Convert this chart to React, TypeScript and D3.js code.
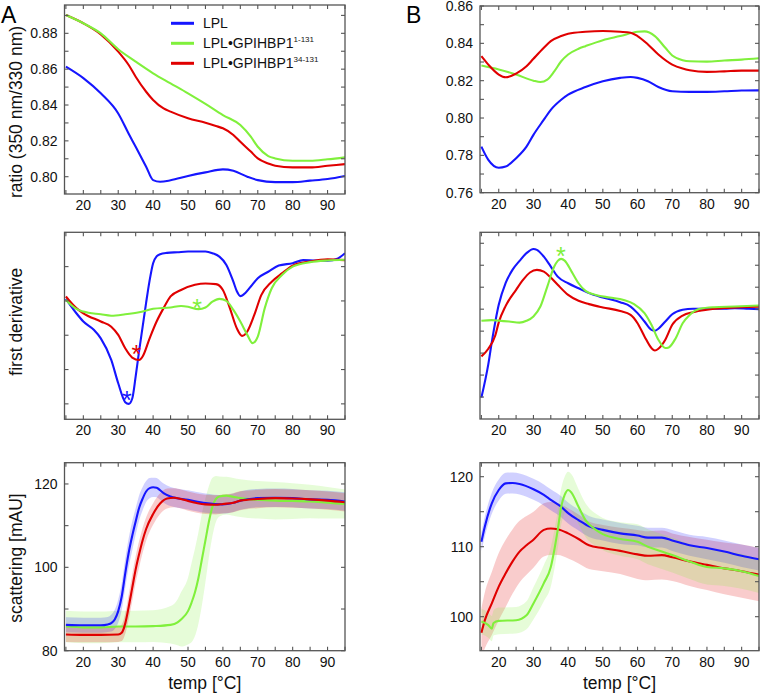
import React from 'react';
import * as d3 from 'd3';

const BLUE = '#1616ff';
const GREEN = '#80f03c';
const RED = '#e00000';
const FONT = '"Liberation Sans", Arial, Helvetica, sans-serif';

// ---------- shared axis ----------
const xDomain = [14.6, 95];
const xTicks = d3.range(15, 96, 5);
const xTickLabels = [20, 30, 40, 50, 60, 70, 80, 90];

// ---------- Panel A, ratio ----------
const aRatioLplT = [15, 20, 25, 30, 33, 35, 38, 40, 42, 45, 50, 55, 60, 63, 67, 70, 75, 80, 85, 90, 95];
const aRatioLplV = [0.8614, 0.855, 0.8465, 0.8353, 0.824, 0.8167, 0.8056, 0.7981, 0.7972, 0.798, 0.8004, 0.8024, 0.8041, 0.8033, 0.80, 0.7981, 0.797, 0.797, 0.7978, 0.7987, 0.8004];
const aRatioG1T = [15, 20, 25, 30, 35, 40, 45, 50, 55, 60, 65, 68, 70, 73, 75, 80, 85, 90, 95];
const aRatioG1V = [0.8902, 0.8856, 0.88, 0.8711, 0.8642, 0.8577, 0.8521, 0.8465, 0.8406, 0.8344, 0.8288, 0.8223, 0.8167, 0.8115, 0.8102, 0.8089, 0.8089, 0.8097, 0.8108];
const aRatioG34T = [15, 20, 25, 30, 33, 35, 38, 40, 43, 45, 50, 55, 58, 60, 63, 65, 68, 70, 73, 75, 80, 85, 90, 95];
const aRatioG34V = [0.8902, 0.8856, 0.8794, 0.8698, 0.8623, 0.8558, 0.8474, 0.8428, 0.8381, 0.8363, 0.8326, 0.8301, 0.8283, 0.827, 0.8233, 0.8195, 0.814, 0.8102, 0.8074, 0.8061, 0.8052, 0.8052, 0.8061, 0.807];
const aRatioTicks = [0.80, 0.81, 0.82, 0.83, 0.84, 0.85, 0.86, 0.87, 0.88, 0.89];
const aRatioLabels = [0.80, 0.82, 0.84, 0.86, 0.88];

// ---------- Panel B, ratio ----------
const bRatioLplT = [15, 17, 20, 22, 25, 28, 30, 33, 35, 38, 40, 45, 50, 55, 58, 60, 63, 66, 70, 75, 80, 85, 90, 95];
const bRatioLplV = [0.7847, 0.7776, 0.7734, 0.774, 0.7785, 0.7847, 0.791, 0.7991, 0.8044, 0.8098, 0.8125, 0.8166, 0.8197, 0.8215, 0.822, 0.8215, 0.8197, 0.8166, 0.8143, 0.814, 0.814, 0.8143, 0.8147, 0.8148];
const bRatioG1T = [15, 20, 25, 30, 32, 34, 36, 38, 40, 43, 45, 50, 55, 60, 62, 65, 68, 70, 73, 75, 80, 85, 90, 95];
const bRatioG1V = [0.8281, 0.826, 0.8233, 0.82, 0.8193, 0.8206, 0.825, 0.8304, 0.834, 0.8371, 0.8385, 0.8417, 0.8439, 0.8462, 0.8464, 0.8439, 0.8376, 0.8335, 0.831, 0.8304, 0.8302, 0.8308, 0.8313, 0.832];
const bRatioG34T = [15, 17, 20, 22, 25, 28, 30, 33, 35, 38, 40, 45, 50, 55, 58, 60, 63, 66, 70, 73, 75, 80, 85, 90, 95];
const bRatioG34V = [0.8331, 0.8286, 0.8233, 0.8218, 0.8238, 0.8277, 0.8317, 0.8376, 0.8412, 0.8439, 0.8451, 0.8462, 0.8466, 0.8462, 0.8457, 0.8439, 0.8394, 0.834, 0.8286, 0.8265, 0.8256, 0.8247, 0.825, 0.8254, 0.8254];
const bRatioTicks = [0.76, 0.77, 0.78, 0.79, 0.80, 0.81, 0.82, 0.83, 0.84, 0.85, 0.86];
const bRatioLabels = [0.76, 0.78, 0.80, 0.82, 0.84, 0.86];

// ---------- Panel A, first derivative (arbitrary units) ----------
const aDerivLplT = [15, 18, 20, 23, 25, 28, 30, 32, 33, 34, 35, 36, 37, 38, 39, 40, 41, 42, 44, 47, 50, 55, 57, 59, 61, 63, 64, 65, 66.5, 68, 70, 73, 76, 80, 83, 86, 90, 93, 95];
const aDerivLplV = [0.06, -0.36, -0.6, -0.84, -1.09, -1.72, -2.4, -2.95, -3.0, -2.85, -2.2, -1.45, -0.75, -0.05, 0.6, 1.1, 1.3, 1.36, 1.4, 1.42, 1.44, 1.44, 1.39, 1.29, 1.05, 0.56, 0.28, 0.14, 0.24, 0.42, 0.66, 0.85, 1.03, 1.1, 1.19, 1.18, 1.17, 1.24, 1.39];
const aDerivG1T = [15, 18, 20, 25, 28, 32, 36, 40, 45, 48, 50, 53, 55, 57, 59, 61, 63, 65, 67, 68.5, 70, 72, 74, 77, 80, 85, 90, 95];
const aDerivG1V = [0.03, -0.23, -0.31, -0.39, -0.43, -0.39, -0.33, -0.23, -0.19, -0.15, -0.17, -0.24, -0.19, -0.02, 0.06, 0, -0.26, -0.6, -0.99, -1.23, -1.04, -0.21, 0.37, 0.76, 1.0, 1.13, 1.18, 1.2];
const aDerivG34T = [15, 18, 20, 25, 28, 30, 32, 34, 36, 37, 39, 41, 43, 45, 48, 52, 55, 58, 60, 62, 64, 65.5, 67, 69, 71, 74, 77, 80, 85, 90, 95];
const aDerivG34V = [0.13, -0.21, -0.36, -0.6, -0.75, -0.99, -1.38, -1.65, -1.72, -1.62, -1.09, -0.6, -0.21, 0.13, 0.32, 0.47, 0.51, 0.49, 0.32, -0.21, -0.8, -1.02, -0.89, -0.41, 0.17, 0.56, 0.81, 1.03, 1.15, 1.21, 1.19];
const aDerivTicks = [-3, -2, -1, 0, 1];
// asterisks: [temp, value]
const aStarLpl = [32.5, -2.74];
const aStarG34 = [35.2, -1.4];
const aStarG1 = [52.6, -0.05];

// ---------- Panel B, first derivative ----------
const bDerivLplT = [15, 17, 18, 20, 22, 24, 26, 28, 30, 31, 33, 35, 37, 40, 43, 46, 50, 55, 58, 60, 62, 64, 65, 66, 68, 70, 73, 76, 80, 85, 88, 92, 95];
const bDerivLplV = [-4.02, -2.5, -1.5, 0.2, 1.2, 1.8, 2.2, 2.55, 2.74, 2.7, 2.39, 1.94, 1.48, 1.18, 0.95, 0.73, 0.53, 0.32, 0.12, -0.18, -0.56, -0.94, -0.98, -0.89, -0.56, -0.23, -0.03, 0.02, 0.02, 0.02, 0.05, 0.02, 0];
const bDerivG1T = [15, 18, 20, 23, 26, 28, 30, 32, 34, 36, 37, 38, 39, 41, 43, 45, 48, 52, 56, 59, 62, 64, 66, 68, 69, 71, 73, 75, 78, 82, 88, 95];
const bDerivG1V = [-0.53, -0.5, -0.52, -0.56, -0.61, -0.53, -0.33, 0.12, 1.03, 1.94, 2.2, 2.29, 2.21, 1.71, 1.18, 0.83, 0.65, 0.53, 0.42, 0.23, -0.18, -0.71, -1.39, -1.77, -1.74, -1.32, -0.64, -0.26, 0.02, 0.09, 0.12, 0.17];
const bDerivG34T = [15, 17, 19, 20, 22, 25, 27, 29, 31, 33, 35, 37, 40, 43, 46, 50, 55, 58, 60, 62, 64, 65, 66, 68, 70, 73, 76, 80, 85, 90, 95];
const bDerivG34V = [-2.15, -1.8, -1.2, -0.6, 0.15, 0.88, 1.33, 1.67, 1.79, 1.71, 1.44, 1.11, 0.65, 0.38, 0.23, 0.08, -0.08, -0.26, -0.64, -1.24, -1.77, -1.88, -1.8, -1.39, -0.71, -0.29, -0.14, -0.03, 0.05, 0.09, 0.11];
const bDerivTicks = [-4, -3, -2, -1, 0, 1, 2, 3];
const bStarG1 = [37.9, 2.65];

// ---------- Panel A, scattering (mean, sd) ----------
const aScatLplT = [15, 20, 25, 27, 28, 29, 30, 31, 32, 33, 34, 35, 36, 37, 38, 39, 40, 41, 42, 43, 45, 50, 55, 60, 63, 65, 70, 75, 80, 85, 90, 95];
const aScatLplV = [86.2, 86.1, 86.1, 86.3, 86.6, 87.5, 89.5, 93, 98.5, 103.5, 107.5, 111, 114.3, 116.5, 118.2, 119, 119.2, 119.1, 118.5, 117.8, 117, 116.2, 115.4, 115.1, 115.5, 116, 116.6, 116.7, 116.6, 116.3, 116.2, 115.8];
const aScatLplS = [1.8, 1.8, 1.8, 1.8, 2, 2.3, 2.8, 3.2, 3.5, 3.5, 3.5, 3.2, 3, 2.8, 2.5, 2.4, 2.3, 2.3, 2.3, 2.3, 2.3, 2.3, 2.3, 2.2, 2.2, 2.2, 2.2, 2.2, 2.2, 2.2, 2.2, 2.2];
const aScatG1T = [15, 20, 25, 30, 35, 40, 45, 47, 48, 50, 51, 52, 53, 54, 55, 56, 57, 58, 59, 61, 63, 65, 70, 75, 80, 85, 90, 95];
const aScatG1V = [85.8, 85.6, 85.6, 85.8, 85.8, 85.9, 86.2, 86.8, 87.5, 89.5, 91.5, 94, 97.5, 102, 106.5, 111, 114.5, 116.4, 117, 117.2, 116.9, 116.6, 116.2, 116, 115.9, 115.8, 115.5, 115.2];
const aScatG1S = [3.8, 3.8, 3.8, 3.8, 3.8, 3.8, 4.5, 5.5, 6.5, 8, 9.5, 10.5, 11, 11, 10, 8.5, 7, 5.5, 4.8, 4.5, 4.5, 4.5, 4.5, 4.5, 4.3, 4, 3.8, 3.5];
const aScatG34T = [15, 20, 25, 30, 31, 32, 33, 34, 35, 36, 37, 38, 40, 42, 44, 46, 48, 50, 55, 58, 60, 63, 65, 70, 75, 80, 85, 90, 95];
const aScatG34V = [83.9, 83.8, 83.8, 83.9, 84.3, 86.5, 90.5, 95, 99.5, 103.2, 106.5, 109.2, 112.8, 115.3, 116.5, 116.7, 116.4, 115.9, 115.1, 115, 115.2, 115.5, 116, 116.4, 116.6, 116.5, 116.3, 116, 115.6];
const aScatG34S = [1.8, 1.8, 1.8, 1.8, 2, 2.5, 3, 3.2, 3.2, 3.2, 3, 2.8, 2.6, 2.5, 2.4, 2.3, 2.3, 2.3, 2.3, 2.3, 2.3, 2.3, 2.3, 2.2, 2.2, 2.2, 2.2, 2.2, 2.2];
const aScatTicks = [80, 90, 100, 110, 120];
const aScatLabels = [80, 100, 120];

// ---------- Panel B, scattering (mean, sd) ----------
const bScatLplT = [15, 16, 18, 20, 22, 24, 26, 30, 33, 35, 38, 40, 43, 46, 50, 55, 60, 63, 67, 70, 75, 80, 85, 90, 95];
const bScatLplV = [110.7, 112.9, 116.2, 118.1, 119.05, 119.1, 118.95, 118.2, 117.4, 116.7, 115.7, 114.8, 113.8, 112.9, 112.4, 111.9, 111.6, 111.3, 111.3, 110.9, 110.2, 109.8, 109.3, 108.7, 108.2];
const bScatLplS = [1.3, 1.4, 1.5, 1.5, 1.5, 1.5, 1.5, 1.5, 1.5, 1.5, 1.5, 1.5, 1.5, 1.5, 1.5, 1.5, 1.4, 1.4, 1.4, 1.5, 1.5, 1.6, 1.6, 1.6, 1.6];
const bScatG1T = [15, 17, 18, 18.5, 20, 25, 28, 30, 33, 35, 36, 37, 38, 39, 40, 41, 43, 45, 48, 50, 55, 60, 63, 67, 70, 75, 80, 85, 90, 95];
const bScatG1V = [99.3, 98.8, 98.3, 99.1, 99.4, 99.5, 100.2, 101.9, 104.8, 107.1, 109.5, 112.4, 115.7, 117.4, 118.1, 117.7, 115.7, 113.8, 112.4, 111.8, 111.1, 110.7, 110, 109.3, 108.8, 107.9, 107.1, 106.9, 106.5, 105.8];
const bScatG1S = [1.8, 1.8, 1.8, 1.8, 1.9, 1.9, 2, 2.3, 2.6, 2.8, 2.8, 2.7, 2.6, 2.6, 2.6, 2.6, 2.5, 2.4, 2.3, 2.3, 2.4, 2.5, 2.5, 2.5, 2.5, 2.5, 2.5, 2.5, 2.5, 2.4];
const bScatG34T = [15, 16, 18, 20, 22, 24, 26, 28, 30, 33, 35, 37, 40, 43, 46, 50, 55, 60, 63, 67, 70, 75, 80, 85, 90, 95];
const bScatG34V = [97.7, 99.5, 101.9, 104.3, 106.2, 107.9, 109.3, 110.2, 111, 112.4, 112.6, 112.5, 111.9, 111.1, 110.2, 109.8, 109.4, 108.9, 108.7, 108.8, 108.5, 107.9, 107.4, 106.9, 106.5, 106];
const bScatG34S = [3.5, 4, 4.5, 4.8, 4.8, 4.6, 4.4, 4.2, 4, 3.8, 3.8, 3.7, 3.6, 3.5, 3.4, 3.3, 3.3, 3.5, 3.5, 3.5, 3.4, 3.5, 3.6, 3.7, 3.8, 3.8];
const bScatTicks = [100, 105, 110, 115, 120];
const bScatLabels = [100, 110, 120];

// ---------- legend ----------
const legendNames = ['LPL', 'LPL•GPIHBP1', 'LPL•GPIHBP1'];
const legendSup = ['', '1-131', '34-131'];
const legendColors = [BLUE, GREEN, RED];

type Series = { t: number[]; v: number[]; s?: number[]; color: string };

interface PanelProps {
  id: string;
  left: number; right: number; top: number; bottom: number;
  yDomain: number[];
  yTicks: number[];
  yLabels: number[];
  yFmt?: (v: number) => string;
  series: Series[];
  stars?: { p: number[]; color: string }[];
}

function Panel(p: PanelProps) {
  const x = d3.scaleLinear().domain(xDomain).range([p.left, p.right]);
  const y = d3.scaleLinear().domain(p.yDomain).range([p.bottom, p.top]);
  const fmt = p.yFmt || ((v: number) => String(v));
  const tl = 4;
  const lineGen = (s: Series) =>
    d3.line<number>().x((_, i) => x(s.t[i])).y((d) => y(d)).curve(d3.curveMonotoneX)(s.v) || '';
  const areaGen = (s: Series) =>
    d3.area<number>()
      .x((_, i) => x(s.t[i]))
      .y0((d, i) => y(d - (s.s as number[])[i]))
      .y1((d, i) => y(d + (s.s as number[])[i]))
      .curve(d3.curveMonotoneX)(s.v) || '';
  const frame = '#555';
  return (
    <g>
      <defs>
        <clipPath id={p.id}>
          <rect x={p.left} y={p.top} width={p.right - p.left} height={p.bottom - p.top} />
        </clipPath>
      </defs>
      <g clipPath={`url(#${p.id})`}>
        {p.series.filter((s) => s.s).map((s, i) => (
          <path key={'a' + i} d={areaGen(s)} fill={s.color} fillOpacity={0.2} stroke="none" />
        ))}
        {p.series.map((s, i) => (
          <path key={'l' + i} d={lineGen(s)} fill="none" stroke={s.color} strokeWidth={2.1} strokeLinejoin="round" />
        ))}
      </g>
      {(p.stars || []).map((st, i) => (
        <text key={'s' + i} x={x(st.p[0])} y={y(st.p[1]) + 14} fontSize={25} textAnchor="middle"
          fill={st.color} fontFamily={FONT}>*</text>
      ))}
      <rect x={p.left} y={p.top} width={p.right - p.left} height={p.bottom - p.top}
        fill="none" stroke={frame} strokeWidth={1.3} />
      {xTicks.map((t) => (
        <g key={'xt' + t}>
          <line x1={x(t)} x2={x(t)} y1={p.bottom} y2={p.bottom - tl} stroke={frame} strokeWidth={1.1} />
          <line x1={x(t)} x2={x(t)} y1={p.top} y2={p.top + tl} stroke={frame} strokeWidth={1.1} />
        </g>
      ))}
      {p.yTicks.map((t) => (
        <g key={'yt' + t}>
          <line x1={p.left} x2={p.left + tl} y1={y(t)} y2={y(t)} stroke={frame} strokeWidth={1.1} />
          <line x1={p.right} x2={p.right - tl} y1={y(t)} y2={y(t)} stroke={frame} strokeWidth={1.1} />
        </g>
      ))}
      {xTickLabels.map((t) => (
        <text key={'xl' + t} x={x(t)} y={p.bottom + 16} fontSize={14} textAnchor="middle"
          fontFamily={FONT} fill="#111">{t}</text>
      ))}
      {p.yLabels.map((t) => (
        <text key={'yl' + t} x={p.left - 7} y={y(t) + 5} fontSize={14} textAnchor="end"
          fontFamily={FONT} fill="#111">{fmt(t)}</text>
      ))}
    </g>
  );
}

export default function App() {
  const f2 = (v: number) => v.toFixed(2);
  const colA = { left: 64.5, right: 345 };
  const colB = { left: 480, right: 759 };
  return (
    <svg width={762} height={697} style={{ position: 'absolute', left: 0, top: 0, background: '#fff' }}
      fontFamily={FONT}>
      <rect x={0} y={0} width={762} height={697} fill="#fff" />
      {/* Row 1 */}
      <Panel id="c1" {...colA} top={5} bottom={194} yDomain={[0.79035, 0.8958]}
        yTicks={aRatioTicks} yLabels={aRatioLabels} yFmt={f2}
        series={[
          { t: aRatioLplT, v: aRatioLplV, color: BLUE },
          { t: aRatioG34T, v: aRatioG34V, color: RED },
          { t: aRatioG1T, v: aRatioG1V, color: GREEN },
        ]} />
      <Panel id="c2" {...colB} top={6} bottom={192.7} yDomain={[0.76, 0.86]}
        yTicks={bRatioTicks} yLabels={bRatioLabels} yFmt={f2}
        series={[
          { t: bRatioLplT, v: bRatioLplV, color: BLUE },
          { t: bRatioG1T, v: bRatioG1V, color: GREEN },
          { t: bRatioG34T, v: bRatioG34V, color: RED },
        ]} />
      {/* Row 2 */}
      <Panel id="c3" {...colA} top={232.3} bottom={419.3} yDomain={[-3.45, 2.0]}
        yTicks={aDerivTicks} yLabels={[]}
        series={[
          { t: aDerivLplT, v: aDerivLplV, color: BLUE },
          { t: aDerivG34T, v: aDerivG34V, color: RED },
          { t: aDerivG1T, v: aDerivG1V, color: GREEN },
        ]}
        stars={[
          { p: aStarLpl, color: BLUE },
          { p: aStarG34, color: RED },
          { p: aStarG1, color: GREEN },
        ]} />
      <Panel id="c4" {...colB} top={232.3} bottom={419} yDomain={[-5, 3.5]}
        yTicks={bDerivTicks} yLabels={[]}
        series={[
          { t: bDerivLplT, v: bDerivLplV, color: BLUE },
          { t: bDerivG34T, v: bDerivG34V, color: RED },
          { t: bDerivG1T, v: bDerivG1V, color: GREEN },
        ]}
        stars={[{ p: bStarG1, color: GREEN }]} />
      {/* Row 3 */}
      <Panel id="c5" {...colA} top={462.7} bottom={650.7} yDomain={[80, 125.1]}
        yTicks={aScatTicks} yLabels={aScatLabels}
        series={[
          { t: aScatG1T, v: aScatG1V, s: aScatG1S, color: GREEN },
          { t: aScatLplT, v: aScatLplV, s: aScatLplS, color: BLUE },
          { t: aScatG34T, v: aScatG34V, s: aScatG34S, color: RED },
        ]} />
      <Panel id="c6" {...colB} top={462.7} bottom={650.7} yDomain={[95.14, 122]}
        yTicks={bScatTicks} yLabels={bScatLabels}
        series={[
          { t: bScatG34T, v: bScatG34V, s: bScatG34S, color: RED },
          { t: bScatLplT, v: bScatLplV, s: bScatLplS, color: BLUE },
          { t: bScatG1T, v: bScatG1V, s: bScatG1S, color: GREEN },
        ]} />

      {/* Legend */}
      {legendNames.map((n, i) => (
        <g key={'lg' + i}>
          <line x1={171} x2={194} y1={23.3 + i * 20} y2={23.3 + i * 20} stroke={legendColors[i]} strokeWidth={3} />
          <text x={203} y={28.3 + i * 20} fontSize={14} fill="#111">
            {n}
            {legendSup[i] ? <tspan fontSize={8} dy={-6}>{legendSup[i]}</tspan> : null}
          </text>
        </g>
      ))}

      {/* Axis titles */}
      <text transform="translate(22,112) rotate(-90)" fontSize={17.5} textAnchor="middle" fill="#111">ratio (350 nm/330 nm)</text>
      <text transform="translate(22,321.7) rotate(-90)" fontSize={17.5} textAnchor="middle" fill="#111">first derivative</text>
      <text transform="translate(22,558) rotate(-90)" fontSize={17.5} textAnchor="middle" fill="#111">scattering [mAU]</text>
      <text x={204.7} y={689} fontSize={17.5} textAnchor="middle" fill="#111">temp [°C]</text>
      <text x={619.5} y={689} fontSize={17.5} textAnchor="middle" fill="#111">temp [°C]</text>

      {/* Panel letters */}
      <text x={1} y={23} fontSize={23} fill="#000">A</text>
      <text x={406} y={23} fontSize={23} fill="#000">B</text>
    </svg>
  );
}
